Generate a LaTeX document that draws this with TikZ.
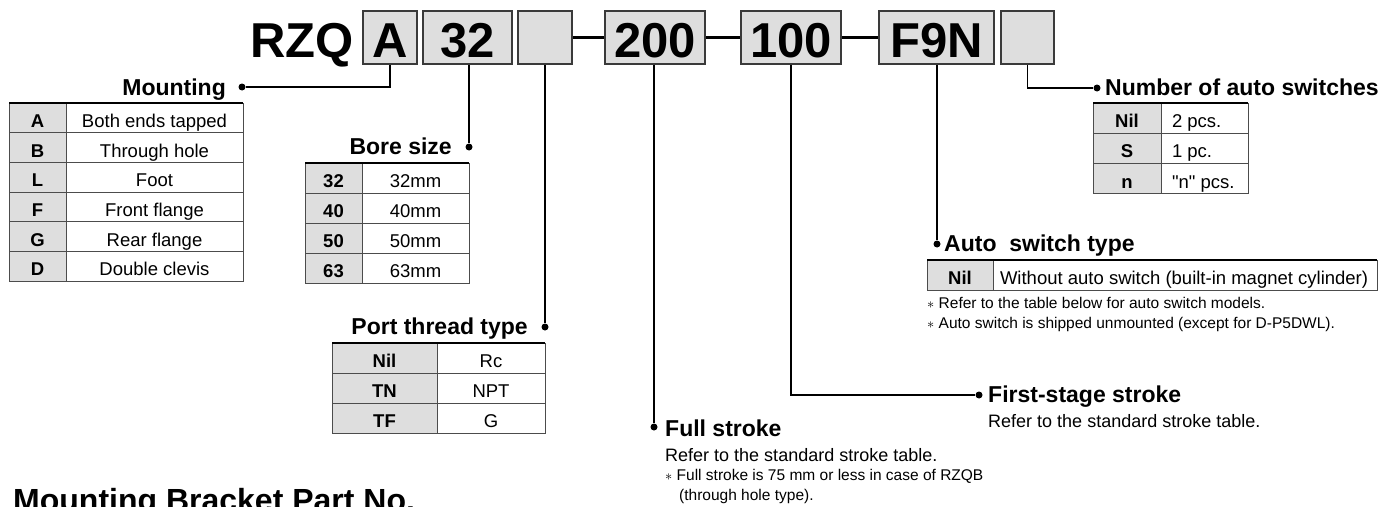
\documentclass[tikz,border=0pt]{standalone}
\usepackage{fontspec}
\setmainfont{Liberation Sans}[Ligatures=TeXOff]
\usepackage{tikz}
\usetikzlibrary{positioning}
\definecolor{cellGray}{HTML}{DEDEDE}
\definecolor{edgeGray}{HTML}{3A3A3A}

% option table: shaded key column, plain value column
\newcommand{\spectab}[8][]{%
  \foreach \k/\v [count=\i] in {#8} {
    \node[keycell,minimum width=#5,minimum height=#7,anchor=north west] (#2-k\i) at (#3,{#4+(\i-1)*#7}) {\k};
    \node[valcell,minimum width=#6,minimum height=#7,anchor=north west,#1] (#2-v\i) at (#2-k\i.north east) {\mbox{\v}};
  }
  \draw[tabtop] (#2-k1.north west) -- (#2-v1.north east);
}

\begin{document}
\begin{tikzpicture}[x=1pt,y=-1pt,
    codebox/.style={draw=edgeGray,line width=1.8pt,fill=cellGray,inner sep=0pt,minimum height=53pt,
      font=\fontsize{49}{50}\selectfont\bfseries,text height=39pt,text depth=0pt},
    keycell/.style={draw=black!70,line width=1pt,fill=cellGray,inner sep=0pt,outer sep=0pt,
      font=\fontsize{18.5}{20}\selectfont\bfseries,text height=19pt,text depth=0pt},
    valcell/.style={draw=black!70,line width=1pt,inner sep=0pt,outer sep=0pt,
      font=\fontsize{18.5}{20}\selectfont,text height=19pt,text depth=0pt},
    tabtop/.style={line width=2pt,black},
    head/.style={inner sep=0pt,font=\fontsize{23}{26}\selectfont\bfseries},
    remark/.style={inner sep=0pt,font=\fontsize{18}{20}\selectfont},
    fnote/.style={inner sep=0pt,font=\fontsize{15.5}{18}\selectfont},
    pin/.style={circle,fill=black,inner sep=0pt,minimum size=7pt},
    lead/.style={line width=1.8pt,black},
    hyphen/.style={line width=3pt,black}]
  \useasboundingbox (0,0) rectangle (1388,506);

  % order code
  \node[inner sep=0pt,font=\fontsize{49}{50}\selectfont\bfseries,anchor=base east] (rzq) at (354,57) {RZQ};
  \node[codebox,minimum width=54pt] (bA) at (390,37.5) {A};
  \node[codebox,minimum width=89pt] (b32) at (467.5,37.5) {32};
  \node[codebox,minimum width=54pt] (bport) at (545,37.5) {};
  \node[codebox,minimum width=100pt] (bfull) at (655,37.5) {200};
  \node[codebox,minimum width=100pt] (bfirst) at (791,37.5) {100};
  \node[codebox,minimum width=115pt] (bsw) at (936.5,37.5) {F9N};
  \node[codebox,minimum width=53pt] (bnum) at (1027.5,37.5) {};
  \draw[hyphen] (bport.east) -- (bfull.west);
  \draw[hyphen] (bfull.east) -- (bfirst.west);
  \draw[hyphen] (bfirst.east) -- (bsw.west);

  % mounting
  \node[pin] (pmount) at (242,87) {};
  \node[head,anchor=base east] (hmount) at (226,95) {Mounting};
  \draw[lead] (bA.south) |- (pmount);
  \spectab{mt}{9}{103}{57}{177}{29.67}{A/Both ends tapped,B/Through hole,L/Foot,F/Front flange,G/Rear flange,D/Double clevis}

  % bore size
  \node[pin] (pbore) at (469,147) {};
  \node[head,anchor=base east] (hbore) at (452,154) {Bore size};
  \draw[lead] (pbore |- b32.south) -- (pbore);
  \spectab{bs}{305}{163}{57}{107}{30}{32/32mm,40/40mm,50/50mm,63/63mm}

  % port thread
  \node[pin] (pport) at (545,327) {};
  \node[head,anchor=base east] (hport) at (528,334) {Port thread type};
  \draw[lead] (bport.south) -- (pport);
  \spectab{pt}{332}{343}{105}{108}{30}{Nil/Rc,TN/NPT,TF/G}

  % full stroke
  \node[pin] (pfull) at (654,427) {};
  \node[head,anchor=base west] (hfull) at (665,436) {Full stroke};
  \draw[lead] (pfull |- bfull.south) -- (pfull);
  \node[remark,anchor=base west] (rfull) at (665,461) {Refer to the standard stroke table.};
  \node[fnote,anchor=base west] (nfull) at (665,480) {$\ast$ Full stroke is 75 mm or less in case of RZQB};
  \node[fnote,anchor=base west] (nfull2) at (679,500) {(through hole type).};

  % first-stage stroke
  \node[pin] (pfirst) at (979,395) {};
  \node[head,anchor=base west] (hfirst) at (988,402) {First-stage stroke};
  \draw[lead] (bfirst.south) |- (pfirst);
  \node[remark,anchor=base west] (rfirst) at (988,427) {Refer to the standard stroke table.};

  % auto switch type
  \node[pin] (pauto) at (937,244) {};
  \node[head,anchor=base west] (hauto) at (944,251) {Auto\ \ switch type};
  \draw[lead] (pauto |- bsw.south) -- (pauto);
  \spectab[inner xsep=7pt,text width=370pt,align=flush left]{as}{927}{260}{66}{384}{30}{Nil/Without auto switch (built-in magnet cylinder)}
  \node[fnote,anchor=base west] (nauto1) at (927,308) {$\ast$ Refer to the table below for auto switch models.};
  \node[fnote,anchor=base west] (nauto2) at (927,328) {$\ast$ Auto switch is shipped unmounted (except for D-P5DWL).};

  % number of auto switches
  \node[pin] (pnum) at (1097,88) {};
  \node[head,anchor=base west] (hnum) at (1105,95) {Number of auto switches};
  \draw[lead] (bnum.south) |- (pnum);
  \spectab[inner xsep=11pt,text width=65pt,align=flush left]{ns}{1093}{103}{68}{87}{30.33}{Nil/2 pcs.,S/1 pc.,n/"n" pcs.}

  \node[inner sep=0pt,anchor=base west,font=\fontsize{32}{34}\selectfont\bfseries] (tbracket) at (13,511) {Mounting Bracket Part No.};
\end{tikzpicture}
\end{document}
